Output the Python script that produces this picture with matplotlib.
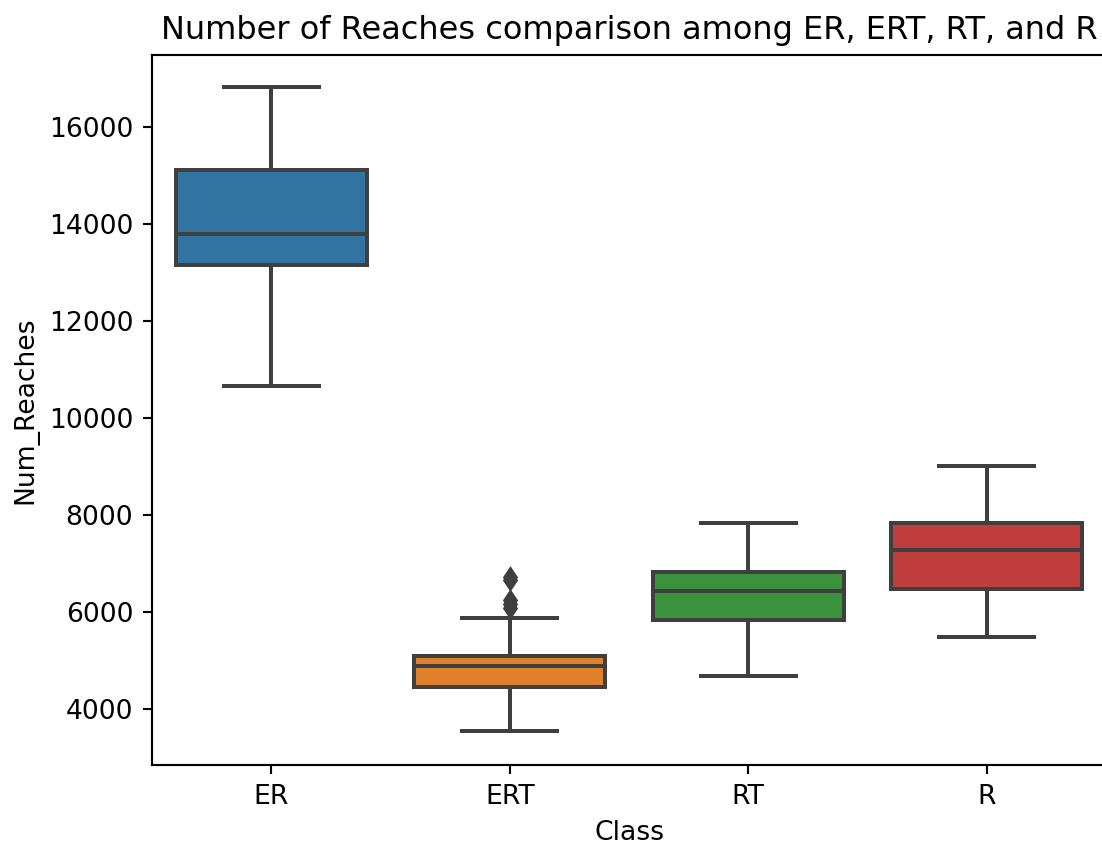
import matplotlib
matplotlib.use("Agg")
import matplotlib.pyplot as plt

# Summary statistics of Num_Reaches per class
classes = ["ER", "ERT", "RT", "R"]
medians = [13800, 4890, 6440, 7280]
q1 = [13160, 4460, 5835, 6475]
q3 = [15110, 5100, 6830, 7830]
whisker_low = [10670, 3545, 4695, 5485]
whisker_high = [16830, 5885, 7830, 9015]
fliers = [[], [6730, 6660, 6260, 6170, 6090], [], []]

colors = ["#3274a1", "#e1812c", "#3a923a", "#c03d3e"]
edge = "#3f3f3f"

dpi = 192
fig = plt.figure(figsize=(1102 / dpi, 851 / dpi), dpi=dpi)
ax = fig.add_axes([152 / 1102, 86 / 851, 954 / 1102, 710 / 851])

stats = []
for i, name in enumerate(classes):
    stats.append(dict(label=name, med=medians[i], q1=q1[i], q3=q3[i],
                      whislo=whisker_low[i], whishi=whisker_high[i],
                      fliers=fliers[i]))

positions = list(range(len(classes)))
bp = ax.bxp(stats, positions=positions, widths=0.8, patch_artist=True,
            showfliers=True,
            boxprops=dict(edgecolor=edge, linewidth=1.5),
            medianprops=dict(color=edge, linewidth=1.5),
            whiskerprops=dict(color=edge, linewidth=1.5),
            capprops=dict(color=edge, linewidth=1.5),
            capwidths=0.4,
            flierprops=dict(marker="d", markerfacecolor=edge,
                            markeredgecolor=edge, markersize=5))
for patch, c in zip(bp["boxes"], colors):
    patch.set_facecolor(c)

ax.set_xlim(-0.5, len(classes) - 0.5)
ax.set_xticks(positions)
ax.set_xticklabels(classes)
ax.set_yticks([4000, 6000, 8000, 10000, 12000, 14000, 16000])
ax.set_ylim(2850, 17490)
ax.set_xlabel("Class")
ax.set_ylabel("Num_Reaches")
ax.set_title("Number of Reaches comparison among ER, ERT, RT, and R", fontsize=12)

fig.savefig("out.png", dpi=dpi)
